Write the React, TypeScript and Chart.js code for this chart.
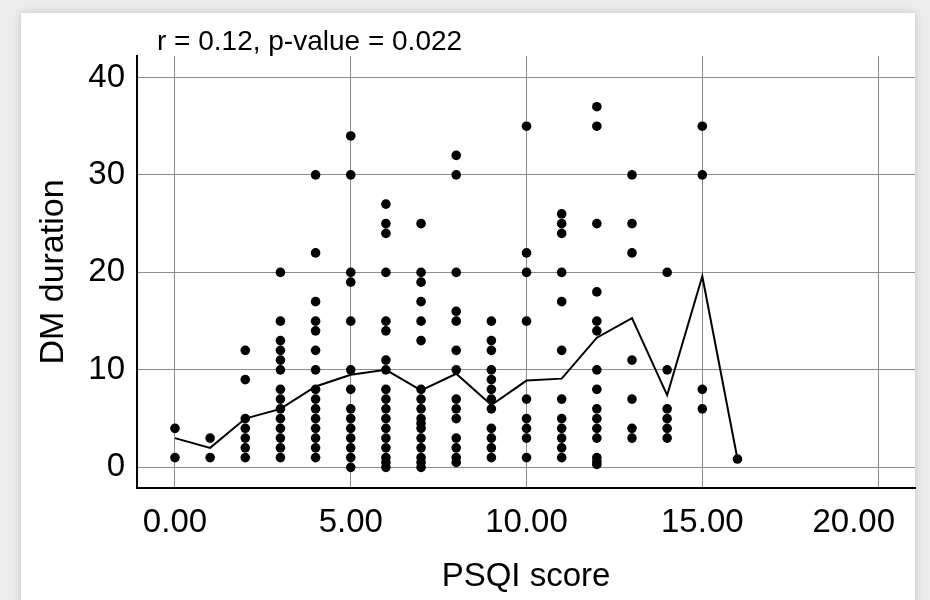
import React, { useEffect, useRef } from "react";
import { Chart, registerables } from "chart.js";

Chart.register(...registerables);

// PSQI score categories (x) and the DM duration values observed at each score
const psqiScores = [0, 1, 2, 3, 4, 5, 6, 7, 8, 9, 10, 11, 12, 13, 14, 15, 16];
const durationsByScore: number[][] = [
  [4, 1],
  [3, 1],
  [12, 9, 5, 4, 3, 2, 1],
  [20, 15, 13, 12, 11, 10, 8, 7, 6, 5, 4, 3, 2, 1],
  [30, 22, 17, 15, 14, 12, 10, 8, 7, 6, 5, 4, 3, 2, 1],
  [34, 30, 20, 19, 15, 10, 8, 6, 5, 4, 3, 2, 1, 0],
  [27, 25, 24, 20, 15, 14, 11, 10, 8, 7, 6, 5, 4, 3, 2, 1, 0.5, 0],
  [25, 20, 19, 17, 15, 13, 8, 7, 6, 5, 4.5, 4, 3, 2, 1, 0.5, 0],
  [32, 30, 20, 16, 15, 12, 10, 7, 6, 5, 3, 2, 1, 0.5],
  [15, 13, 12, 10, 9, 8, 7, 6, 4, 3, 2, 1],
  [35, 22, 20, 15, 7, 5, 4, 3, 1],
  [26, 25, 24, 20, 17, 12, 7, 5, 4, 3, 2, 1],
  [37, 35, 25, 18, 15, 14, 10, 8, 6, 5, 4, 3, 1, 0.6, 0.3],
  [30, 25, 22, 11, 7, 4, 3],
  [20, 10, 6, 5, 4, 3],
  [35, 30, 8, 6],
  [0.85],
];
// Mean DM duration per PSQI score (the connecting line)
const meanDuration = [3, 2, 5, 6, 8.3, 9.5, 10, 7.9, 9.6, 6.4, 8.9, 9.1, 13.3, 15.3, 7.4, 19.6, 0.85];

const xTicks = [0, 5, 10, 15, 20];
const yTicks = [0, 10, 20, 30, 40];
const annotationText = "r = 0.12, p-value = 0.022";
const xTitle = "PSQI score";
const yTitle = "DM duration";

const FONT = "'Liberation Sans', Arial, Helvetica, sans-serif";

export default function App() {
  const canvasRef = useRef<HTMLCanvasElement | null>(null);

  useEffect(() => {
    const canvas = canvasRef.current;
    if (!canvas) return;

    const scatterPoints = psqiScores.flatMap((s, i) =>
      durationsByScore[i].map((d) => ({ x: s, y: d }))
    );
    const meanPoints = psqiScores.map((s, i) => ({ x: s, y: meanDuration[i] }));

    const annotationPlugin = {
      id: "annotationText",
      afterDraw(chart: any) {
        const { ctx, chartArea } = chart;
        ctx.save();
        ctx.font = `28px ${FONT}`;
        ctx.fillStyle = "#000";
        ctx.textAlign = "left";
        ctx.textBaseline = "middle";
        ctx.fillText(annotationText, chartArea.left + 20, chartArea.top - 14);
        ctx.restore();
      },
    };

    // x tick labels: centred on their tick, but kept inside the plot's right margin
    const xLabelPlugin = {
      id: "xTickLabels",
      afterDraw(chart: any) {
        const { ctx, chartArea } = chart;
        const xs = chart.scales.x;
        ctx.save();
        ctx.font = `33px ${FONT}`;
        ctx.fillStyle = "#000";
        ctx.textBaseline = "middle";
        const y = chartArea.bottom + 35;
        const maxRight = chartArea.right - 20;
        xTicks.forEach((v) => {
          const label = v.toFixed(2);
          const px = xs.getPixelForValue(v);
          const w = ctx.measureText(label).width;
          if (px + w / 2 > maxRight) {
            ctx.textAlign = "right";
            ctx.fillText(label, maxRight, y);
          } else {
            ctx.textAlign = "center";
            ctx.fillText(label, px, y);
          }
        });
        ctx.restore();
      },
    };

    const chart = new Chart(canvas, {
      type: "scatter",
      data: {
        datasets: [
          {
            type: "line",
            data: meanPoints,
            borderColor: "#000",
            borderWidth: 2,
            pointRadius: 0,
            fill: false,
            tension: 0,
            order: 2,
          } as any,
          {
            type: "scatter",
            data: scatterPoints,
            backgroundColor: "#000",
            borderWidth: 0,
            pointRadius: 4.8,
            order: 1,
          },
        ],
      },
      options: {
        responsive: false,
        animation: false,
        layout: { padding: { left: 0, top: 56, right: 15, bottom: 0 } },
        plugins: {
          legend: { display: false },
          tooltip: { enabled: false },
        },
        scales: {
          x: {
            type: "linear",
            min: -1.08,
            max: 21.05,
            afterBuildTicks: (scale: any) => {
              scale.ticks = xTicks.map((v) => ({ value: v }));
            },
            afterFit: (scale: any) => {
              scale.height = 112;
            },
            ticks: { display: false },
            grid: { color: "#8c8c8c", lineWidth: 1, drawTicks: false },
            border: { display: true, color: "#000", width: 2 },
            title: {
              display: true,
              text: xTitle,
              font: { family: FONT, size: 33 },
              color: "#000",
              padding: { top: 0, bottom: 3 },
            },
          },
          y: {
            type: "linear",
            min: -2.12,
            max: 42.2,
            afterBuildTicks: (scale: any) => {
              scale.ticks = yTicks.map((v) => ({ value: v }));
            },
            afterFit: (scale: any) => {
              scale.width = 137;
            },
            ticks: {
              callback: (v: any) => String(v),
              font: { family: FONT, size: 33 },
              color: "#000",
              padding: 12,
            },
            grid: { color: "#8c8c8c", lineWidth: 1, drawTicks: false },
            border: { display: true, color: "#000", width: 2 },
            title: {
              display: true,
              text: yTitle,
              font: { family: FONT, size: 34 },
              color: "#000",
              padding: { top: 33, bottom: 0 },
            },
          },
        },
      },
      plugins: [annotationPlugin, xLabelPlugin],
    });

    return () => chart.destroy();
  }, []);

  return (
    <div
      style={{
        position: "absolute",
        left: 0,
        top: 0,
        width: 930,
        height: 600,
        background: "#ececec",
        overflow: "hidden",
      }}
    >
      <div
        style={{
          position: "absolute",
          left: 21,
          top: 13,
          width: 894,
          height: 600,
          background: "#fff",
          boxShadow: "0 0 8px rgba(0,0,0,0.18)",
        }}
      />
      <canvas
        ref={canvasRef}
        width={930}
        height={600}
        style={{ position: "absolute", left: 0, top: 0, width: 930, height: 600 }}
      />
    </div>
  );
}
